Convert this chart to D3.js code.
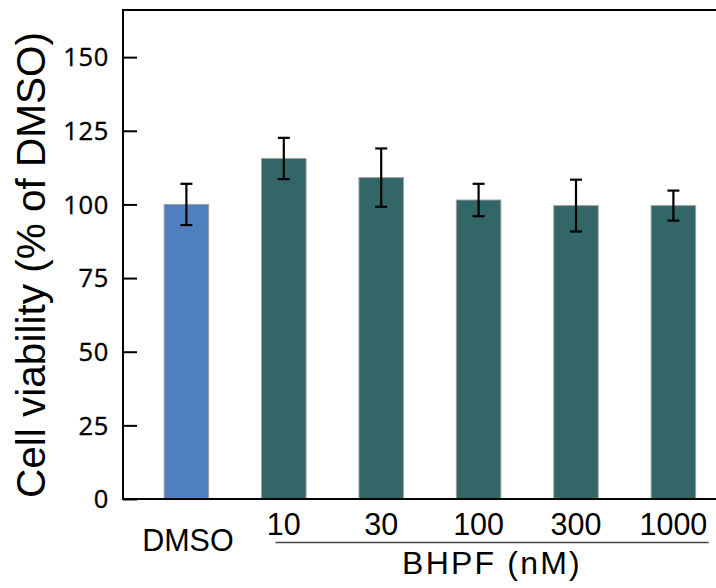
<!DOCTYPE html>
<html>
<head>
<meta charset="utf-8">
<script src="https://cdn.jsdelivr.net/npm/d3@7"></script>
<style>
  body { margin:0; background:#fff; }
  svg { display:block; }
</style>
</head>
<body>
<div id="chart"></div>
<script>
// data
let groups  = ['DMSO','10','30','100','300','1000']
let means   = [100, 115.6, 109.1, 101.5, 99.6, 99.6]
let errs    = [7.0, 7.0, 9.9, 5.5, 8.8, 5.1]
let colors  = ['#4f80bd','#336666','#336666','#336666','#336666','#336666']
let yTicks  = [0, 25, 50, 75, 100, 125, 150]

let width = 716, height = 588
let plotLeft = 123, plotTop = 10, plotBottom = 499

let svg = d3.select("#chart").append("svg")
  .attr("width", width)
  .attr("height", height)

let x = d3.scaleBand()
  .domain(groups)
  .range([137.7, 722.1])
  .paddingInner(0.543)
  .paddingOuter(0.2715)

let y = d3.scaleLinear()
  .domain([0, 166])
  .range([plotBottom, plotTop])

// bars
svg.selectAll("rect.bar")
  .data(groups)
  .enter().append("rect")
  .attr("class","bar")
  .attr("x", d => x(d))
  .attr("width", x.bandwidth())
  .attr("y", (d,i) => y(means[i]))
  .attr("height", (d,i) => y(0) - y(means[i]))
  .attr("fill", (d,i) => colors[i])
  .attr("stroke", "#a0a0a0")
  .attr("stroke-width", 1)

// error bars
let eb = svg.selectAll("g.err").data(groups).enter().append("g").attr("class","err")
  .attr("stroke","#000").attr("stroke-width",2.2)
eb.append("line")
  .attr("x1", d => x(d) + x.bandwidth()/2).attr("x2", d => x(d) + x.bandwidth()/2)
  .attr("y1", (d,i) => y(means[i]+errs[i])).attr("y2", (d,i) => y(means[i]-errs[i]))
eb.append("line")
  .attr("x1", d => x(d) + x.bandwidth()/2 - 6).attr("x2", d => x(d) + x.bandwidth()/2 + 6)
  .attr("y1", (d,i) => y(means[i]+errs[i])).attr("y2", (d,i) => y(means[i]+errs[i]))
eb.append("line")
  .attr("x1", d => x(d) + x.bandwidth()/2 - 6).attr("x2", d => x(d) + x.bandwidth()/2 + 6)
  .attr("y1", (d,i) => y(means[i]-errs[i])).attr("y2", (d,i) => y(means[i]-errs[i]))

// frame: left, top, bottom
svg.append("path")
  .attr("d", `M${width+2},${plotTop} H${plotLeft} V${plotBottom} H${width+2}`)
  .attr("fill","none").attr("stroke","#000").attr("stroke-width",2)

// y axis ticks (inward)
let yAxis = d3.axisRight(y).tickValues(yTicks).tickSize(14).tickFormat("")
let yg = svg.append("g").attr("transform",`translate(${plotLeft},0)`).call(yAxis)
yg.select(".domain").remove()
yg.selectAll(".tick line").attr("stroke","#000").attr("stroke-width",2)

svg.selectAll("text.ytick")
  .data(yTicks).enter().append("text")
  .attr("class","ytick")
  .attr("x", 109)
  .attr("y", d => y(d))
  .attr("dy","0.36em")
  .attr("text-anchor","end")
  .attr("font-family","'Open Sans', sans-serif")
  .attr("font-size",25.5)
  .attr("letter-spacing",0.7)
  .attr("stroke","#000").attr("stroke-width",0.35)
  .text(d => d)

// y title
svg.append("text")
  .attr("transform","translate(45,265) rotate(-90)")
  .attr("text-anchor","middle")
  .attr("font-family","'Liberation Sans', Arial, sans-serif")
  .attr("font-size",40.5)
  .text("Cell viability (% of DMSO)")

// x labels
svg.selectAll("text.xtick")
  .data(groups).enter().append("text")
  .attr("class","xtick")
  .attr("x", d => x(d) + x.bandwidth()/2 + (d === 'DMSO' ? 1.5 : 0))
  .attr("y", d => d === 'DMSO' ? 551 : 535)
  .attr("text-anchor","middle")
  .attr("font-family","'Liberation Sans', Arial, sans-serif")
  .attr("font-size",30.5)
  .text(d => d)

// BHPF bracket line and label
svg.append("line")
  .attr("x1", x('10') + 14).attr("x2", x('1000') + x.bandwidth() + 13)
  .attr("y1", 542.5).attr("y2", 542.5)
  .attr("stroke","#444").attr("stroke-width",1.6)

svg.append("text")
  .attr("x", 492).attr("y", 574)
  .attr("text-anchor","middle")
  .attr("font-family","'Liberation Sans', Arial, sans-serif")
  .attr("font-size",32)
  .attr("letter-spacing",2.2)
  .text("BHPF (nM)")
</script>
</body>
</html>
